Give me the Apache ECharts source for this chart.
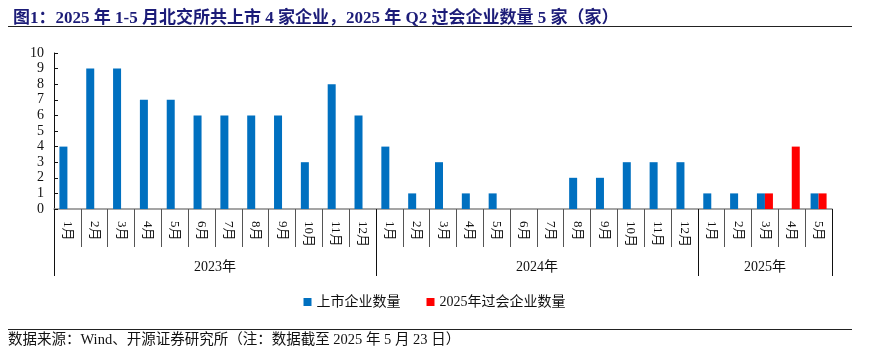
<!DOCTYPE html>
<html style="height: 100%">
<head>
    <meta charset="utf-8">
</head>
<body style="height: 100%; margin: 0; background: #fff">
    <div id="container" style="width: 869px; height: 351px"></div>
    <script type="text/javascript" src="https://cdn.jsdelivr.net/npm/echarts@6/dist/echarts.min.js"></script>
    <script type="text/javascript">
// data
var years = ['2023年', '2024年', '2025年'];
var monthCounts = [12, 12, 5];
var listed = [4, 9, 9, 7, 7, 6, 6, 6, 6, 3, 8, 6,
              4, 1, 3, 1, 1, 0, 0, 2, 2, 3, 3, 3,
              1, 1, 1, 0, 1];
var approved2025 = [null, null, null, null, null, null, null, null, null, null, null, null,
                    null, null, null, null, null, null, null, null, null, null, null, null,
                    null, null, 1, 4, 1];
var yTicks = [0, 10, 1];

var serif = "'Liberation Serif', 'Noto Sans CJK SC', serif";

// month categories
var months = [];
monthCounts.forEach(function (n) {
    for (var i = 1; i <= n; i++) months.push(i + '月');
});

// year axis: one point per half month, so the year label can sit in the middle of its group
var halfPoints = [];
var yearStart = {}, yearMid = {};
var acc = 0;
monthCounts.forEach(function (n, k) {
    yearStart[acc * 2] = true;
    yearMid[acc * 2 + n] = years[k];
    acc += n;
});
yearStart[acc * 2] = true;
for (var h = 0; h <= acc * 2; h++) {
    halfPoints.push(yearMid[h] || '');
}

var dom = document.getElementById("container");
var myChart = echarts.init(dom);
var option = {
    backgroundColor: '#fff',
    animation: false,
    title: {
        text: '图1：2025 年 1-5 月北交所共上市 4 家企业，2025 年 Q2 过会企业数量 5 家（家）',
        left: 8,
        top: 5,
        textStyle: {
            color: '#1c1c78',
            fontSize: 17,
            fontWeight: 'bold',
            fontFamily: serif
        }
    },
    graphic: [
        { type: 'line', shape: { x1: 8, y1: 26.5, x2: 852, y2: 26.5 }, style: { stroke: '#222', lineWidth: 1 } },
        { type: 'line', shape: { x1: 8, y1: 329.5, x2: 852, y2: 329.5 }, style: { stroke: '#222', lineWidth: 1 } },
        {
            type: 'text', left: 8, top: 333,
            style: { text: '数据来源：Wind、开源证券研究所（注：数据截至 2025 年 5 月 23 日）', fill: '#111', font: '14.5px ' + serif }
        }
    ],
    legend: {
        top: 290,
        left: 'center',
        itemWidth: 8,
        itemHeight: 8,
        itemGap: 26,
        icon: 'rect',
        textStyle: { color: '#111', fontSize: 14, fontFamily: serif },
        data: ['上市企业数量', '2025年过会企业数量']
    },
    grid: {
        left: 54,
        right: 37,
        top: 53,
        bottom: 142,
        containLabel: false
    },
    xAxis: [
        {
            type: 'category',
            data: months,
            axisLine: { lineStyle: { color: '#888', width: 1.5 } },
            axisTick: { show: true, interval: 0, length: 38, lineStyle: { color: '#555' } },
            axisLabel: {
                interval: 0,
                rotate: -90,
                margin: 12,
                color: '#111',
                fontSize: 13,
                fontFamily: serif
            }
        },
        {
            type: 'category',
            data: halfPoints,
            boundaryGap: false,
            position: 'bottom',
            axisLine: { show: false },
            axisTick: {
                show: true,
                length: 67,
                interval: function (idx) { return !!yearStart[idx]; },
                lineStyle: { color: '#111' }
            },
            axisLabel: {
                interval: function (idx, val) { return val !== ''; },
                margin: 51,
                color: '#111',
                fontSize: 14,
                fontFamily: serif
            }
        }
    ],
    yAxis: {
        type: 'value',
        min: yTicks[0],
        max: yTicks[1],
        interval: yTicks[2],
        axisLine: { show: true, lineStyle: { color: '#111' } },
        axisTick: { show: true, inside: true, length: 4, lineStyle: { color: '#111' } },
        splitLine: { show: false },
        axisLabel: { color: '#111', fontSize: 14, fontFamily: serif, margin: 10 }
    },
    series: [
        {
            name: '上市企业数量',
            type: 'bar',
            data: listed,
            barWidth: 8,
            barGap: '0%',
            itemStyle: { color: '#0070C0' }
        },
        {
            name: '2025年过会企业数量',
            type: 'bar',
            data: approved2025,
            barWidth: 8,
            itemStyle: { color: '#FF0000' }
        }
    ]
};
myChart.setOption(option, true);
</script>
</body>
</html>
